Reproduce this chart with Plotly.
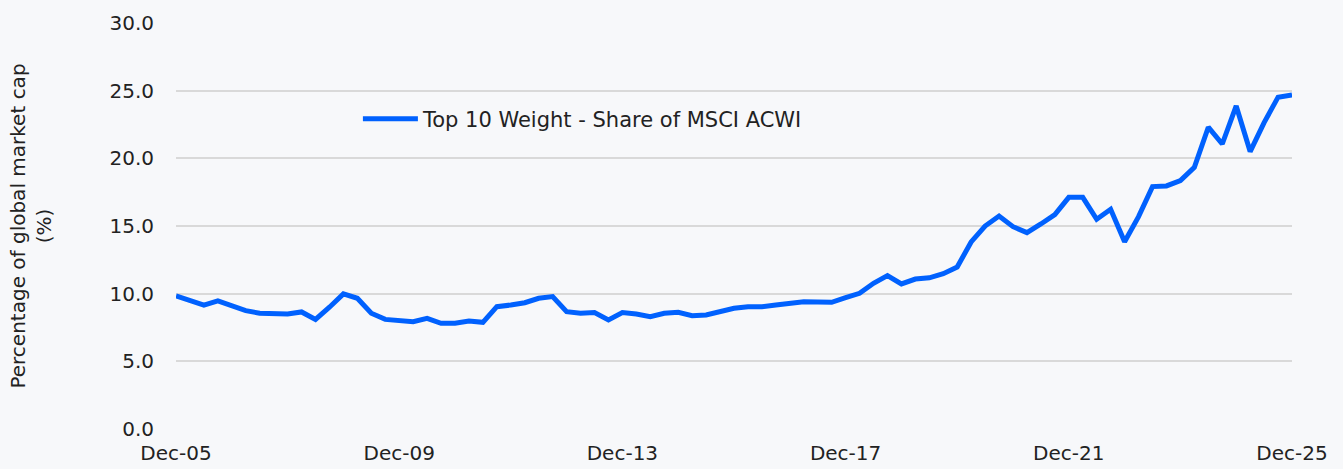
import plotly.graph_objects as go

months = ["Mar", "Jun", "Sep", "Dec"]
quarters = ["Dec-05"] + [f"{m}-{y:02d}" for y in range(6, 26) for m in months]

top10_weight = [
    9.83, 9.50, 9.16, 9.46, 9.10, 8.75, 8.55, 8.55, 8.50, 8.65,
    8.10, 9.00, 9.98, 9.66, 8.55, 8.10, 8.05, 7.93, 8.18, 7.81,
    7.81, 7.98, 7.88, 9.04, 9.16, 9.33, 9.66, 9.78, 8.67, 8.55,
    8.60, 8.06, 8.60, 8.50, 8.30, 8.55, 8.62, 8.37, 8.43, 8.67,
    8.92, 9.04, 9.04, 9.16, 9.29, 9.41, 9.39, 9.36, 9.70, 10.03,
    10.77, 11.33, 10.72, 11.08, 11.17, 11.48, 11.97, 13.82, 15.00, 15.74,
    14.95, 14.51, 15.15, 15.84, 17.12, 17.12, 15.50, 16.24, 13.84, 15.69,
    17.91, 17.96, 18.35, 19.34, 22.30, 21.06, 23.87, 20.50, 22.64, 24.52,
    24.69,
]

tick_labels = ["Dec-05", "Dec-09", "Dec-13", "Dec-17", "Dec-21", "Dec-25"]
y_ticks = [0, 5, 10, 15, 20, 25, 30]

FONT = "DejaVu Sans"
FS = 20
TXT = "#222222"
BG = "#f7f8fa"

fig = go.Figure()
fig.add_trace(go.Scatter(
    x=quarters, y=top10_weight, mode="lines",
    name="Top 10 Weight - Share of MSCI ACWI",
    line=dict(color="#0061fe", width=5, shape="linear"),
))

fig.update_layout(
    width=1343, height=469,
    paper_bgcolor=BG, plot_bgcolor=BG,
    margin=dict(l=176, r=51, t=23, b=40, autoexpand=False),
    font=dict(family=FONT, size=FS, color=TXT),
    showlegend=True,
    legend=dict(
        x=0.163, y=0.7635, xanchor="left", yanchor="middle",
        bgcolor="rgba(0,0,0,0)", font=dict(family=FONT, size=21, color=TXT),
        itemwidth=55,
    ),
    xaxis=dict(
        type="category", range=[0, 80], automargin=False,
        tickmode="array", tickvals=tick_labels, ticktext=tick_labels,
        showgrid=False, zeroline=False, showline=False, ticks="",
        tickfont=dict(family=FONT, size=FS, color=TXT),
        ticklabelstandoff=10,
    ),
    yaxis=dict(
        range=[0, 30], tickmode="array", tickvals=y_ticks, tickformat=".1f",
        automargin=False,
        showgrid=True, gridcolor="#d9d9d9", gridwidth=2, zeroline=False,
        showline=False, ticks="",
        tickfont=dict(family=FONT, size=FS, color=TXT),
        ticklabelstandoff=21,
        title=dict(text="Percentage of global market cap<br>(%)",
                   font=dict(family=FONT, size=FS, color=TXT), standoff=52),
    ),
)

fig.write_html(
    "out.html",
    config={"displayModeBar": False},
    post_script="document.body.style.margin='0';document.body.style.background='%s';" % BG,
)
